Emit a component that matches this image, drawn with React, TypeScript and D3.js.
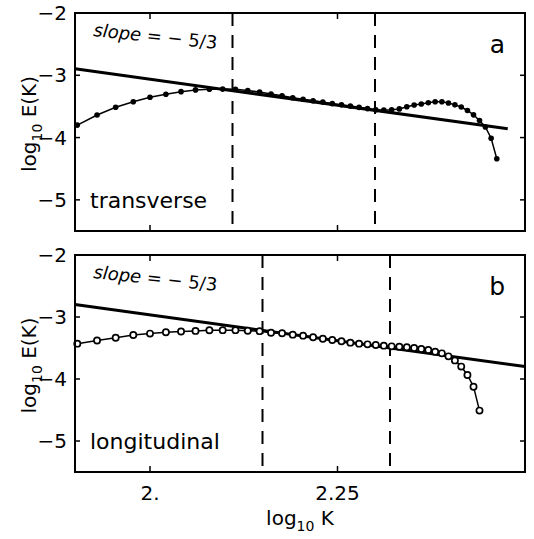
import React from 'react';
import * as d3 from 'd3';

const kTop = [80, 85, 90, 95, 100, 105, 110, 115, 120, 125, 130, 135, 140, 145, 150, 155, 160, 165, 170, 175, 180, 185, 190, 195, 200, 205, 210, 215, 220, 225, 230, 235, 240, 245, 250, 255, 260, 265, 270, 275, 280, 285, 290];
const eTop = [-3.8, -3.637, -3.514, -3.424, -3.353, -3.305, -3.263, -3.235, -3.225, -3.222, -3.225, -3.245, -3.27, -3.3, -3.33, -3.36, -3.385, -3.41, -3.43, -3.455, -3.475, -3.495, -3.515, -3.535, -3.555, -3.56, -3.555, -3.54, -3.505, -3.477, -3.46, -3.44, -3.425, -3.425, -3.445, -3.475, -3.51, -3.565, -3.635, -3.725, -3.83, -4.01, -4.34];

const kBottom = [80, 85, 90, 95, 100, 105, 110, 115, 120, 125, 130, 135, 140, 145, 150, 155, 160, 165, 170, 175, 180, 185, 190, 195, 200, 205, 210, 215, 220, 225, 230, 235, 240, 245, 250, 255, 260, 265, 270, 275];
const eBottom = [-3.43, -3.38, -3.335, -3.29, -3.268, -3.245, -3.234, -3.224, -3.213, -3.212, -3.212, -3.222, -3.228, -3.253, -3.263, -3.285, -3.301, -3.327, -3.35, -3.371, -3.392, -3.414, -3.43, -3.441, -3.452, -3.462, -3.473, -3.478, -3.489, -3.5, -3.516, -3.532, -3.559, -3.586, -3.635, -3.7, -3.8, -3.935, -4.124, -4.51];

const xDomain = [1.9, 2.5];
const yDomain = [-5.5, -2];
const xTicks = [2.0, 2.25];
const xTickLabels = ['2.', '2.25'];
const yTicks = [-2, -3, -4, -5];
const yTickLabels = ['−2', '−3', '−4', '−5'];

const dashTop = [2.11, 2.3];
const dashBottom = [2.15, 2.32];
// power-law reference line: log E = intercept + slope * log K
const slopeValue = -5 / 3;
const refTop = { x0: 1.9, x1: 2.477, intercept: 0.27 };
const refBottom = { x0: 1.9, x1: 2.5, intercept: 0.368 };

const panelLabels = ['transverse', 'longitudinal'];
const panelLetters = ['a', 'b'];

const FONT = '"DejaVu Sans", "Liberation Sans", Arial, sans-serif';
const X0 = 75, X1 = 525;

function Panel({ top, bottom, ks, es, dashes, ref0, label, letter, open, showXLabels }) {
  const x = d3.scaleLinear().domain(xDomain).range([X0, X1]);
  const y = d3.scaleLinear().domain(yDomain).range([bottom, top]);
  const pts = ks.map((k, i) => [Math.log10(k), es[i]]);
  const line = d3.line().x(d => x(d[0])).y(d => y(d[1]));
  const refPts = [
    [ref0.x0, ref0.intercept + slopeValue * ref0.x0],
    [ref0.x1, ref0.intercept + slopeValue * ref0.x1],
  ];
  const cy = (top + bottom) / 2 + 2;
  return (
    <g>
      {dashes.map((d, i) => (
        <line key={'d' + i} x1={x(d)} x2={x(d)} y1={top} y2={bottom} stroke="#000" strokeWidth={2} strokeDasharray="13,9" />
      ))}
      <path d={line(refPts)} fill="none" stroke="#000" strokeWidth={3} />
      <path d={line(pts)} fill="none" stroke="#000" strokeWidth={1.5} />
      {pts.map((p, i) => open ? (
        <circle key={'p' + i} cx={x(p[0])} cy={y(p[1])} r={3.1} fill="#fff" stroke="#000" strokeWidth={1.7} />
      ) : (
        <circle key={'p' + i} cx={x(p[0])} cy={y(p[1])} r={2.8} fill="#000" />
      ))}
      <rect x={X0} y={top} width={X1 - X0} height={bottom - top} fill="none" stroke="#000" strokeWidth={2} />
      {xTicks.map((t, i) => (
        <g key={'xt' + i}>
          <line x1={x(t)} x2={x(t)} y1={top} y2={top + 6} stroke="#000" strokeWidth={1.5} />
          <line x1={x(t)} x2={x(t)} y1={bottom} y2={bottom - 6} stroke="#000" strokeWidth={1.5} />
          {showXLabels && (
            <text x={x(t)} y={bottom + 28} textAnchor="middle" fontSize={20} fontFamily={FONT}>{xTickLabels[i]}</text>
          )}
        </g>
      ))}
      {yTicks.map((t, i) => (
        <g key={'yt' + i}>
          <line x1={X0} x2={X0 + 5} y1={y(t)} y2={y(t)} stroke="#000" strokeWidth={1.5} />
          <line x1={X1} x2={X1 - 5} y1={y(t)} y2={y(t)} stroke="#000" strokeWidth={1.5} />
          <text x={67} y={y(t)} dy="0.36em" textAnchor="end" fontSize={20} fontFamily={FONT}>{yTickLabels[i]}</text>
        </g>
      ))}
      <text transform={`translate(36,${cy}) rotate(-90)`} textAnchor="middle" fontSize={20} fontFamily={FONT}>
        log<tspan fontSize={14} dy="6">10</tspan><tspan dy="-6"> E(K)</tspan>
      </text>
      <text transform={`translate(93,${top + 23}) rotate(6)`} fontSize={18} fontFamily={FONT}>
        <tspan fontStyle="italic">slope</tspan> = − 5/3
      </text>
      <text x={90} y={bottom - 23} fontSize={22} fontFamily={FONT}>{label}</text>
      <text x={505} y={top + 40} textAnchor="end" fontSize={25} fontFamily={FONT}>{letter}</text>
    </g>
  );
}

export default function App() {
  return (
    <svg width={534} height={539} style={{ position: 'absolute', left: 0, top: 0, background: '#fff' }}>
      <rect x={0} y={0} width={534} height={539} fill="#fff" />
      <Panel top={13} bottom={231} ks={kTop} es={eTop} dashes={dashTop} ref0={refTop} label={panelLabels[0]} letter={panelLetters[0]} open={false} showXLabels={false} />
      <Panel top={255} bottom={472} ks={kBottom} es={eBottom} dashes={dashBottom} ref0={refBottom} label={panelLabels[1]} letter={panelLetters[1]} open={true} showXLabels={true} />
      <text x={300} y={525} textAnchor="middle" fontSize={20} fontFamily={FONT}>
        log<tspan fontSize={14} dy="6">10</tspan><tspan dy="-6"> K</tspan>
      </text>
    </svg>
  );
}
